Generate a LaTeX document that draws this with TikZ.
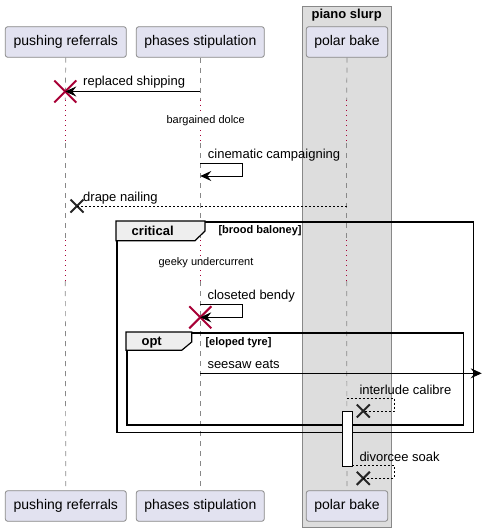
\documentclass[tikz,border=0pt]{standalone}
\usepackage{fontspec}
\setmainfont{Liberation Sans}
\usetikzlibrary{arrows.meta,shapes.misc}
\definecolor{partfill}{HTML}{E2E2F0}
\definecolor{partdraw}{HTML}{888888}
\definecolor{boxfill}{HTML}{DDDDDD}
\definecolor{tabfill}{HTML}{EEEEEE}
\definecolor{xred}{HTML}{A80036}
\definecolor{lifecol}{HTML}{888888}
\begin{document}
\begin{tikzpicture}[x=1pt,y=-1pt,
  part/.style={draw=partdraw, fill=partfill, rounded corners=2.5pt, minimum height=30.6pt, inner sep=0pt, line width=0.8pt, font=\fontsize{14}{16}\selectfont},
  msg/.style={anchor=west, inner sep=0pt, font=\fontsize{13}{15}\selectfont},
  delaytext/.style={inner sep=0pt, font=\fontsize{11}{13}\selectfont},
  life/.style={draw=lifecol, line width=0.7pt, dash pattern=on 5pt off 5pt},
  delayline/.style={draw=xred, line width=0.9pt, dash pattern=on 1pt off 4pt},
  sync/.style={line width=0.9pt, -{Stealth[length=11pt,width=10pt,inset=4pt]}},
  reply/.style={line width=0.8pt, dash pattern=on 2pt off 2pt},
  frameline/.style={draw, line width=1.5pt},
  tabshape/.style={fill=tabfill, draw, line width=1.2pt},
  framelabel/.style={inner sep=0pt, font=\fontsize{13}{15}\selectfont\bfseries},
  guard/.style={anchor=west, inner sep=0pt, font=\fontsize{11}{13}\selectfont\bfseries},
  redx/.style={draw=xred, cross out, line width=2pt, minimum size=20pt, inner sep=0pt},
  blackx/.style={draw=black!85, cross out, line width=2pt, minimum size=11pt, inner sep=0pt},
]
\useasboundingbox (0,0) rectangle (482,532);

% box piano slurp
\node[draw=partdraw, fill=boxfill, line width=0.9pt, minimum width=88.7pt, minimum height=521.3pt, inner sep=0pt, anchor=north west] (box) at (302.3,6) {};
\node[inner sep=0pt, font=\fontsize{13}{15}\selectfont\bfseries] (boxtitle) at (346.7,15.5) {piano slurp};

% participants
\node[part, minimum width=121pt] (prtop) at (65.8,42) {pushing referrals};
\node[part, minimum width=128pt] (pstop) at (200.3,42) {phases stipulation};
\node[part, minimum width=81.4pt] (pbtop) at (347,42) {polar bake};
\node[part, minimum width=121pt] (prbot) at (65.8,506) {pushing referrals};
\node[part, minimum width=128pt] (psbot) at (200.3,506) {phases stipulation};
\node[part, minimum width=81.4pt] (pbbot) at (347,506) {polar bake};

% lifeline coordinates
\foreach \n/\x in {pr/65.3, ps/200.3, pb/346.7}{
  \coordinate (\n-1) at (\x,100);
  \coordinate (\n-2) at (\x,143);
  \coordinate (\n-3) at (\x,240);
  \coordinate (\n-4) at (\x,281);
}
\foreach \n in {pr, ps, pb}{
  \draw[life] (\n top.south) -- (\n-1);
  \draw[delayline] (\n-1) -- (\n-2);
  \draw[life] (\n-2) -- (\n-3);
  \draw[delayline] (\n-3) -- (\n-4);
  \draw[life] (\n-4) -- (\n bot.north);
}

% 1 replaced shipping
\coordinate (m1s) at (200.3,91.5);
\node[redx] (x1) at (65.3,91.5) {};
\draw[sync] (m1s) -- (x1.center);
\node[msg] (l1) at (83,82) {replaced shipping};

% delay 1
\node[delaytext, fill=white, inner sep=1pt] (d1) at (205.7,121) {bargained dolce};

% 2 cinematic campaigning
\coordinate (m2s) at (200.3,163.3);
\coordinate (m2a) at (242.3,163.3);
\coordinate (m2b) at (242.3,176);
\coordinate (m2e) at (200.3,176);
\draw[sync] (m2s) -- (m2a) -- (m2b) -- (m2e);
\node[msg] (l2) at (207.7,155) {cinematic campaigning};

% 3 drape nailing
\coordinate (m3s) at (346.7,206);
\node[blackx] (x3) at (77,206) {};
\draw[reply] (m3s) -- (x3.center);
\node[msg] (l3) at (83,198) {drape nailing};

% critical frame
\node[frameline, minimum width=356.7pt, minimum height=210.7pt, inner sep=0pt, anchor=north west] (crit) at (116,221) {};
\draw[tabshape] (116,221) -- (205,221) -- (205,231) -- (195,240.7) -- (116,240.7) -- cycle;
\node[framelabel] (critl) at (152.7,231) {critical};
\node[guard] (critg) at (218.3,231) {[brood baloney]};

% delay 2
\node[delaytext, fill=white, inner sep=1pt] (d2) at (206,262.3) {geeky undercurrent};

% 4 closeted bendy
\coordinate (m4s) at (200.3,304.7);
\coordinate (m4a) at (242.7,304.7);
\coordinate (m4b) at (242.7,317.3);
\node[redx] (x4) at (200.3,317.3) {};
\draw[sync] (m4s) -- (m4a) -- (m4b) -- (x4.center);
\node[msg] (l4) at (207.3,296) {closeted bendy};

% opt frame
\node[frameline, minimum width=336.7pt, minimum height=92.3pt, inner sep=0pt, anchor=north west] (opt) at (126,332) {};
\draw[tabshape] (126,332) -- (191.7,332) -- (191.7,342) -- (181.7,350.3) -- (126,350.3) -- cycle;
\node[framelabel] (optl) at (151.7,342.5) {opt};
\node[guard] (optg) at (205.3,342.5) {[eloped tyre]};

% 5 seesaw eats
\coordinate (m5s) at (200.3,373.3);
\coordinate (m5e) at (481.7,373.3);
\draw[sync] (m5s) -- (m5e);
\node[msg] (l5) at (207.3,364) {seesaw eats};

% 6 interlude calibre
\coordinate (m6s) at (346.7,398.3);
\coordinate (m6a) at (394.3,398.3);
\coordinate (m6b) at (394.3,411);
\node[blackx] (x6) at (363.3,411) {};
\draw[reply] (m6s) -- (m6a) -- (m6b) -- (x6.center);
\node[msg] (l6) at (359.3,389.5) {interlude calibre};

% activation
\node[draw, fill=white, line width=0.8pt, minimum width=10pt, minimum height=54.7pt, inner sep=0pt, anchor=north west] (act) at (342.3,411.3) {};

% 7 divorcee soak
\coordinate (m7s) at (352.3,465.3);
\coordinate (m7a) at (394.3,465.3);
\coordinate (m7b) at (394.3,478.3);
\node[blackx] (x7) at (363.3,478.3) {};
\draw[reply] (m7s) -- (m7a) -- (m7b) -- (x7.center);
\node[msg] (l7) at (359.3,456.5) {divorcee soak};
\end{tikzpicture}
\end{document}
